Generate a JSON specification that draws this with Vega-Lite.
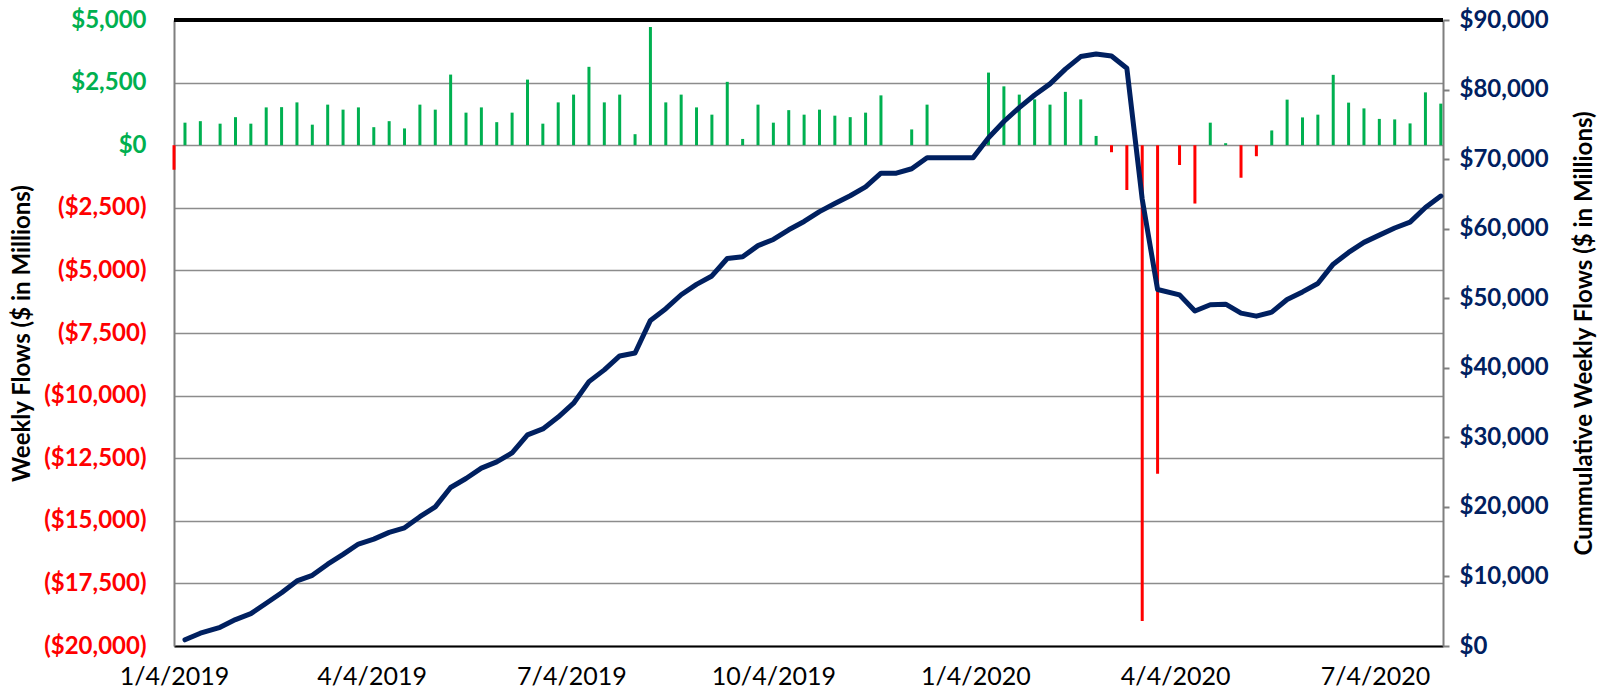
{
  "$schema": "https://vega.github.io/schema/vega-lite/v6.json",
  "width": 1269,
  "height": 626,
  "autosize": {"type": "none"},
  "padding": {"left": 174, "top": 20, "right": 164, "bottom": 49},
  "background": "white",
  "config": {"view": {"stroke": null}, "font": "Lato"},
  "data": {"values": [
    {"d": "2019-01-04", "flow": -980, "cum": null},
    {"d": "2019-01-09", "flow": 900, "cum": 890},
    {"d": "2019-01-16", "flow": 960, "cum": 1840},
    {"d": "2019-01-25", "flow": 860, "cum": 2690},
    {"d": "2019-02-01", "flow": 1120, "cum": 3800},
    {"d": "2019-02-08", "flow": 860, "cum": 4650},
    {"d": "2019-02-15", "flow": 1510, "cum": 6150},
    {"d": "2019-02-22", "flow": 1520, "cum": 7650},
    {"d": "2019-03-01", "flow": 1710, "cum": 9350},
    {"d": "2019-03-08", "flow": 820, "cum": 10160},
    {"d": "2019-03-15", "flow": 1620, "cum": 11760},
    {"d": "2019-03-22", "flow": 1420, "cum": 13170},
    {"d": "2019-03-29", "flow": 1510, "cum": 14660},
    {"d": "2019-04-05", "flow": 720, "cum": 15370},
    {"d": "2019-04-12", "flow": 960, "cum": 16330},
    {"d": "2019-04-19", "flow": 670, "cum": 16990},
    {"d": "2019-04-26", "flow": 1620, "cum": 18590},
    {"d": "2019-05-03", "flow": 1420, "cum": 20000},
    {"d": "2019-05-10", "flow": 2820, "cum": 22790},
    {"d": "2019-05-17", "flow": 1300, "cum": 24080},
    {"d": "2019-05-24", "flow": 1510, "cum": 25570},
    {"d": "2019-05-31", "flow": 920, "cum": 26480},
    {"d": "2019-06-07", "flow": 1300, "cum": 27770},
    {"d": "2019-06-14", "flow": 2620, "cum": 30360},
    {"d": "2019-06-21", "flow": 860, "cum": 31210},
    {"d": "2019-06-28", "flow": 1710, "cum": 32910},
    {"d": "2019-07-05", "flow": 2020, "cum": 34910},
    {"d": "2019-07-12", "flow": 3130, "cum": 38010},
    {"d": "2019-07-19", "flow": 1710, "cum": 39700},
    {"d": "2019-07-26", "flow": 2020, "cum": 41700},
    {"d": "2019-08-02", "flow": 440, "cum": 42130},
    {"d": "2019-08-09", "flow": 4720, "cum": 46810},
    {"d": "2019-08-16", "flow": 1710, "cum": 48500},
    {"d": "2019-08-23", "flow": 2020, "cum": 50500},
    {"d": "2019-08-30", "flow": 1510, "cum": 51990},
    {"d": "2019-09-06", "flow": 1220, "cum": 53200},
    {"d": "2019-09-13", "flow": 2530, "cum": 55710},
    {"d": "2019-09-20", "flow": 250, "cum": 55950},
    {"d": "2019-09-27", "flow": 1620, "cum": 57560},
    {"d": "2019-10-04", "flow": 900, "cum": 58450},
    {"d": "2019-10-11", "flow": 1400, "cum": 59840},
    {"d": "2019-10-18", "flow": 1220, "cum": 61040},
    {"d": "2019-10-25", "flow": 1420, "cum": 62450},
    {"d": "2019-11-01", "flow": 1180, "cum": 63620},
    {"d": "2019-11-08", "flow": 1120, "cum": 64730},
    {"d": "2019-11-15", "flow": 1300, "cum": 66010},
    {"d": "2019-11-22", "flow": 1990, "cum": 67980},
    {"d": "2019-11-29", "flow": 0, "cum": 67980},
    {"d": "2019-12-06", "flow": 630, "cum": 68610},
    {"d": "2019-12-13", "flow": 1620, "cum": 70210},
    {"d": "2019-12-20", "flow": 0, "cum": 70210},
    {"d": "2019-12-27", "flow": 0, "cum": 70210},
    {"d": "2020-01-03", "flow": 0, "cum": 70210},
    {"d": "2020-01-10", "flow": 2900, "cum": 73080},
    {"d": "2020-01-17", "flow": 2350, "cum": 75410},
    {"d": "2020-01-24", "flow": 2020, "cum": 77410},
    {"d": "2020-01-31", "flow": 1830, "cum": 79220},
    {"d": "2020-02-07", "flow": 1620, "cum": 80820},
    {"d": "2020-02-14", "flow": 2130, "cum": 82930},
    {"d": "2020-02-21", "flow": 1830, "cum": 84740},
    {"d": "2020-02-28", "flow": 370, "cum": 85110},
    {"d": "2020-03-06", "flow": -280, "cum": 84830},
    {"d": "2020-03-13", "flow": -1790, "cum": 83060},
    {"d": "2020-03-20", "flow": -19000, "cum": 64250},
    {"d": "2020-03-27", "flow": -13120, "cum": 51260},
    {"d": "2020-04-06", "flow": -790, "cum": 50480},
    {"d": "2020-04-13", "flow": -2330, "cum": 48170},
    {"d": "2020-04-20", "flow": 900, "cum": 49060},
    {"d": "2020-04-27", "flow": 80, "cum": 49140},
    {"d": "2020-05-04", "flow": -1300, "cum": 47860},
    {"d": "2020-05-11", "flow": -440, "cum": 47420},
    {"d": "2020-05-18", "flow": 590, "cum": 48000},
    {"d": "2020-05-25", "flow": 1820, "cum": 49810},
    {"d": "2020-06-01", "flow": 1110, "cum": 50910},
    {"d": "2020-06-08", "flow": 1220, "cum": 52110},
    {"d": "2020-06-15", "flow": 2810, "cum": 54900},
    {"d": "2020-06-22", "flow": 1700, "cum": 56580},
    {"d": "2020-06-29", "flow": 1470, "cum": 58030},
    {"d": "2020-07-06", "flow": 1050, "cum": 59070},
    {"d": "2020-07-13", "flow": 1030, "cum": 60090},
    {"d": "2020-07-20", "flow": 870, "cum": 60950},
    {"d": "2020-07-27", "flow": 2110, "cum": 63040},
    {"d": "2020-08-03", "flow": 1660, "cum": 64690}
  ]},
  "encoding": {
    "x": {
      "field": "d",
      "type": "temporal",
      "scale": {
        "type": "utc",
        "domain": [
          {"year": 2019, "month": 1, "date": 4, "utc": true},
          {"year": 2020, "month": 8, "date": 4, "utc": true}
        ]
      },
      "axis": {
        "orient": "bottom",
        "title": null,
        "values": [
          {"year": 2019, "month": 1, "date": 4, "utc": true},
          {"year": 2019, "month": 4, "date": 4, "utc": true},
          {"year": 2019, "month": 7, "date": 4, "utc": true},
          {"year": 2019, "month": 10, "date": 4, "utc": true},
          {"year": 2020, "month": 1, "date": 4, "utc": true},
          {"year": 2020, "month": 4, "date": 4, "utc": true},
          {"year": 2020, "month": 7, "date": 4, "utc": true}
        ],
        "labelExpr": "utcFormat(datum.value, '%-m/%-d/%Y')",
        "grid": false,
        "ticks": false,
        "domainColor": "#000000",
        "domainWidth": 2,
        "labelFont": "Lato",
        "labelFontSize": 25,
        "labelColor": "#000000",
        "labelPadding": 18,
        "labelFlush": false,
        "labelOverlap": false,
        "labelBound": false
      }
    }
  },
  "layer": [
    {
      "encoding": {
        "y": {
          "field": "flow",
          "type": "quantitative",
          "scale": {"domain": [-20000, 5000], "nice": false, "zero": false},
          "axis": {
            "orient": "left",
            "values": [-20000, -17500, -15000, -12500, -10000, -7500, -5000, -2500, 0, 2500, 5000],
            "grid": true,
            "gridColor": "#8C8C8C",
            "gridWidth": 1.5,
            "domainColor": "#7F7F7F",
            "domainWidth": 2,
            "ticks": false,
            "labelFont": "Lato",
            "labelFontSize": 24,
            "labelFontWeight": "bold",
            "labelColor": {"condition": {"test": "datum.value < 0", "value": "#FF0000"}, "value": "#00B050"},
            "labelExpr": "datum.value < 0 ? '($' + format(-datum.value, ',') + ')' : '$' + format(datum.value, ',')",
            "labelPadding": 28,
            "title": "Weekly Flows ($ in Millions)",
            "titleFont": "Lato",
            "titleFontSize": 24,
            "titleFontWeight": "bold",
            "titleColor": "#000000",
            "titleAngle": -90,
            "titleX": -152,
            "titleY": 313,
            "titleAlign": "center",
            "titleBaseline": "middle"
          }
        }
      },
      "layer": [
        {
          "mark": {"type": "rule", "strokeWidth": 3, "strokeCap": "butt"},
          "encoding": {
            "y2": {"datum": 0},
            "color": {"condition": {"test": "datum.flow < 0", "value": "#FF0000"}, "value": "#00B050"}
          }
        },
        {
          "mark": {"type": "rule", "strokeWidth": 2.5, "color": "#000000"},
          "encoding": {"y": {"datum": 5000}, "x": null}
        }
      ]
    },
    {
      "transform": [{"filter": "isValid(datum.cum)"}],
      "mark": {"type": "line", "strokeWidth": 5, "color": "#002060", "strokeJoin": "round", "strokeCap": "round"},
      "encoding": {
        "y": {
          "field": "cum",
          "type": "quantitative",
          "scale": {"domain": [0, 90000], "nice": false},
          "axis": {
            "orient": "right",
            "values": [0, 10000, 20000, 30000, 40000, 50000, 60000, 70000, 80000, 90000],
            "grid": false,
            "domainColor": "#7F7F7F",
            "domainWidth": 2,
            "ticks": true,
            "tickColor": "#7F7F7F",
            "tickSize": 6,
            "tickWidth": 2,
            "labelFont": "Lato",
            "labelFontSize": 24,
            "labelFontWeight": "bold",
            "labelColor": "#002060",
            "labelExpr": "'$' + format(datum.value, ',')",
            "labelPadding": 10,
            "title": "Cummulative Weekly Flows ($ in Millions)",
            "titleFont": "Lato",
            "titleFontSize": 24,
            "titleFontWeight": "bold",
            "titleColor": "#000000",
            "titleAngle": -90,
            "titleX": 141,
            "titleY": 313,
            "titleAlign": "center",
            "titleBaseline": "middle"
          }
        }
      }
    }
  ],
  "resolve": {"scale": {"y": "independent"}}
}
